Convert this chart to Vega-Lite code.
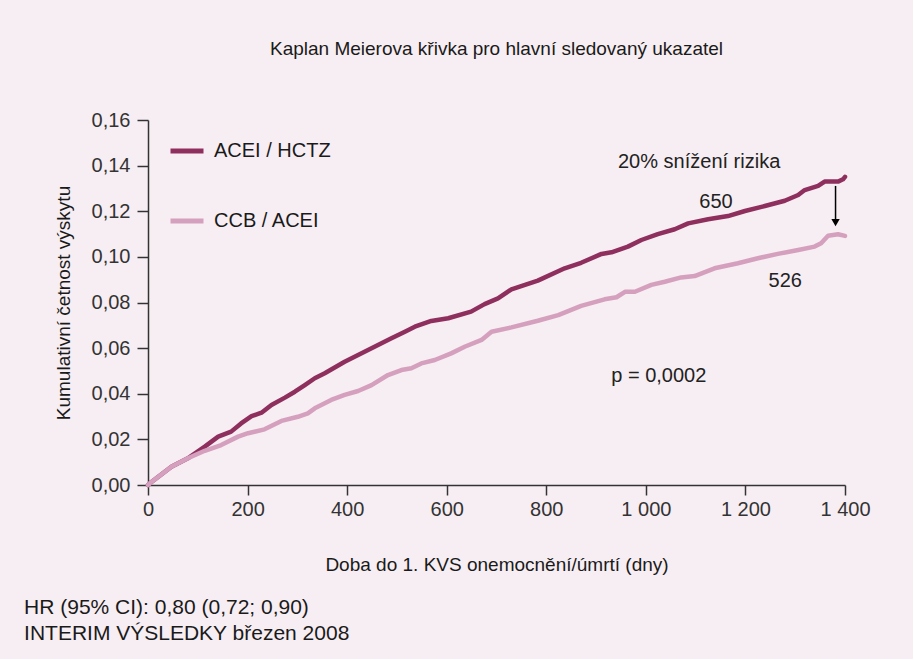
{
  "$schema": "https://vega.github.io/schema/vega-lite/v6.json",
  "background": "#f7eef3",
  "padding": {"left": 24, "top": 40, "right": 42, "bottom": 15},
  "config": {"font": "Liberation Sans", "view": {"stroke": null}, "concat": {"spacing": 0}},
  "title": {
    "text": ["HR (95% CI): 0,80 (0,72; 0,90)", "INTERIM VÝSLEDKY březen 2008"],
    "orient": "bottom", "anchor": "start", "frame": "bounds",
    "fontSize": 21, "fontWeight": "normal", "lineHeight": 26, "offset": 23, "dx": -30,
    "color": "#1a1a1a", "font": "Liberation Sans"
  },
  "datasets": {
    "curves": [
      {"series": "ACEI / HCTZ", "day": 0, "value": 0},
      {"series": "ACEI / HCTZ", "day": 5, "value": 0.001},
      {"series": "ACEI / HCTZ", "day": 47, "value": 0.008},
      {"series": "ACEI / HCTZ", "day": 80, "value": 0.0117},
      {"series": "ACEI / HCTZ", "day": 114, "value": 0.0168},
      {"series": "ACEI / HCTZ", "day": 141, "value": 0.0212},
      {"series": "ACEI / HCTZ", "day": 167, "value": 0.0234},
      {"series": "ACEI / HCTZ", "day": 187, "value": 0.027},
      {"series": "ACEI / HCTZ", "day": 208, "value": 0.0302},
      {"series": "ACEI / HCTZ", "day": 228, "value": 0.0317},
      {"series": "ACEI / HCTZ", "day": 248, "value": 0.0351},
      {"series": "ACEI / HCTZ", "day": 275, "value": 0.0383},
      {"series": "ACEI / HCTZ", "day": 295, "value": 0.0409},
      {"series": "ACEI / HCTZ", "day": 315, "value": 0.0438},
      {"series": "ACEI / HCTZ", "day": 335, "value": 0.0468},
      {"series": "ACEI / HCTZ", "day": 355, "value": 0.049},
      {"series": "ACEI / HCTZ", "day": 395, "value": 0.054},
      {"series": "ACEI / HCTZ", "day": 435, "value": 0.0584},
      {"series": "ACEI / HCTZ", "day": 455, "value": 0.0606},
      {"series": "ACEI / HCTZ", "day": 489, "value": 0.0643},
      {"series": "ACEI / HCTZ", "day": 516, "value": 0.0672},
      {"series": "ACEI / HCTZ", "day": 536, "value": 0.0694},
      {"series": "ACEI / HCTZ", "day": 569, "value": 0.0719},
      {"series": "ACEI / HCTZ", "day": 603, "value": 0.0731},
      {"series": "ACEI / HCTZ", "day": 649, "value": 0.076},
      {"series": "ACEI / HCTZ", "day": 676, "value": 0.0793},
      {"series": "ACEI / HCTZ", "day": 703, "value": 0.0818},
      {"series": "ACEI / HCTZ", "day": 730, "value": 0.0858},
      {"series": "ACEI / HCTZ", "day": 783, "value": 0.0896},
      {"series": "ACEI / HCTZ", "day": 837, "value": 0.095},
      {"series": "ACEI / HCTZ", "day": 870, "value": 0.0974},
      {"series": "ACEI / HCTZ", "day": 911, "value": 0.1013},
      {"series": "ACEI / HCTZ", "day": 931, "value": 0.102},
      {"series": "ACEI / HCTZ", "day": 964, "value": 0.1045},
      {"series": "ACEI / HCTZ", "day": 991, "value": 0.1074},
      {"series": "ACEI / HCTZ", "day": 1024, "value": 0.11},
      {"series": "ACEI / HCTZ", "day": 1058, "value": 0.1121},
      {"series": "ACEI / HCTZ", "day": 1085, "value": 0.1147},
      {"series": "ACEI / HCTZ", "day": 1125, "value": 0.1165},
      {"series": "ACEI / HCTZ", "day": 1165, "value": 0.1179},
      {"series": "ACEI / HCTZ", "day": 1199, "value": 0.1201},
      {"series": "ACEI / HCTZ", "day": 1239, "value": 0.1223},
      {"series": "ACEI / HCTZ", "day": 1279, "value": 0.1246},
      {"series": "ACEI / HCTZ", "day": 1306, "value": 0.1271},
      {"series": "ACEI / HCTZ", "day": 1319, "value": 0.1293},
      {"series": "ACEI / HCTZ", "day": 1346, "value": 0.1311},
      {"series": "ACEI / HCTZ", "day": 1359, "value": 0.133},
      {"series": "ACEI / HCTZ", "day": 1386, "value": 0.133},
      {"series": "ACEI / HCTZ", "day": 1396, "value": 0.134},
      {"series": "ACEI / HCTZ", "day": 1400, "value": 0.1351},
      {"series": "CCB / ACEI", "day": 0, "value": 0},
      {"series": "CCB / ACEI", "day": 5, "value": 0.001},
      {"series": "CCB / ACEI", "day": 47, "value": 0.008},
      {"series": "CCB / ACEI", "day": 80, "value": 0.0117},
      {"series": "CCB / ACEI", "day": 114, "value": 0.015},
      {"series": "CCB / ACEI", "day": 147, "value": 0.0175},
      {"series": "CCB / ACEI", "day": 181, "value": 0.0212},
      {"series": "CCB / ACEI", "day": 201, "value": 0.0227},
      {"series": "CCB / ACEI", "day": 234, "value": 0.0244},
      {"series": "CCB / ACEI", "day": 268, "value": 0.0281},
      {"series": "CCB / ACEI", "day": 301, "value": 0.0299},
      {"series": "CCB / ACEI", "day": 321, "value": 0.0314},
      {"series": "CCB / ACEI", "day": 335, "value": 0.0336},
      {"series": "CCB / ACEI", "day": 368, "value": 0.0373},
      {"series": "CCB / ACEI", "day": 395, "value": 0.0395},
      {"series": "CCB / ACEI", "day": 422, "value": 0.0412},
      {"series": "CCB / ACEI", "day": 449, "value": 0.0438},
      {"series": "CCB / ACEI", "day": 482, "value": 0.0482},
      {"series": "CCB / ACEI", "day": 509, "value": 0.0504},
      {"series": "CCB / ACEI", "day": 529, "value": 0.0512},
      {"series": "CCB / ACEI", "day": 549, "value": 0.0533},
      {"series": "CCB / ACEI", "day": 576, "value": 0.0548},
      {"series": "CCB / ACEI", "day": 609, "value": 0.0577},
      {"series": "CCB / ACEI", "day": 636, "value": 0.0606},
      {"series": "CCB / ACEI", "day": 670, "value": 0.0636},
      {"series": "CCB / ACEI", "day": 690, "value": 0.0672},
      {"series": "CCB / ACEI", "day": 730, "value": 0.0691},
      {"series": "CCB / ACEI", "day": 783, "value": 0.072},
      {"series": "CCB / ACEI", "day": 824, "value": 0.0745},
      {"series": "CCB / ACEI", "day": 870, "value": 0.0785},
      {"series": "CCB / ACEI", "day": 917, "value": 0.0814},
      {"series": "CCB / ACEI", "day": 941, "value": 0.0823},
      {"series": "CCB / ACEI", "day": 958, "value": 0.0847},
      {"series": "CCB / ACEI", "day": 978, "value": 0.0847},
      {"series": "CCB / ACEI", "day": 1011, "value": 0.0877},
      {"series": "CCB / ACEI", "day": 1038, "value": 0.0891},
      {"series": "CCB / ACEI", "day": 1071, "value": 0.091},
      {"series": "CCB / ACEI", "day": 1098, "value": 0.0916},
      {"series": "CCB / ACEI", "day": 1138, "value": 0.095},
      {"series": "CCB / ACEI", "day": 1185, "value": 0.0972},
      {"series": "CCB / ACEI", "day": 1225, "value": 0.0994},
      {"series": "CCB / ACEI", "day": 1265, "value": 0.1013},
      {"series": "CCB / ACEI", "day": 1306, "value": 0.103},
      {"series": "CCB / ACEI", "day": 1339, "value": 0.1045},
      {"series": "CCB / ACEI", "day": 1352, "value": 0.106},
      {"series": "CCB / ACEI", "day": 1366, "value": 0.1093},
      {"series": "CCB / ACEI", "day": 1386, "value": 0.1099},
      {"series": "CCB / ACEI", "day": 1400, "value": 0.1092}
    ],
    "arrow": [
      {"day": 1381, "from": 0.1311, "to": 0.1145, "head": 0.115}
    ],
    "notes": [
      {"label": "20% snížení rizika", "day": 1107, "value": 0.1416},
      {"label": "650", "day": 1141, "value": 0.1241},
      {"label": "526", "day": 1280, "value": 0.0894},
      {"label": "p = 0,0002", "day": 1026, "value": 0.0478}
    ]
  },
  "vconcat": [
    {
      "width": 697,
      "height": 365,
      "title": {
        "text": "Kaplan Meierova křivka pro hlavní sledovaný ukazatel",
        "anchor": "middle", "frame": "group", "fontSize": 19, "fontWeight": "normal",
        "color": "#1a1a1a", "offset": 51, "font": "Liberation Sans"
      },
      "layer": [
        {
          "data": {"name": "curves"},
          "mark": {"type": "line", "strokeWidth": 4.5, "strokeCap": "round", "strokeJoin": "round"},
          "encoding": {
            "x": {
              "field": "day", "type": "quantitative",
              "scale": {"domain": [0, 1400], "nice": false, "zero": true},
              "axis": {
                "values": [0, 200, 400, 600, 800, 1000, 1200, 1400],
                "labelExpr": "replace(format(datum.value, ','), ',', ' ')",
                "title": "Doba do 1. KVS  onemocnění/úmrtí (dny)",
                "grid": false, "tickSize": 10, "labelPadding": 4, "labelFontSize": 20,
                "labelColor": "#333333", "domainColor": "#333333", "tickColor": "#333333",
                "domainWidth": 1.5, "tickWidth": 1.5, "labelFlush": false,
                "titleFontSize": 19, "titleFontWeight": "normal", "titleColor": "#1a1a1a", "titlePadding": 36
              }
            },
            "y": {
              "field": "value", "type": "quantitative",
              "scale": {"domain": [0, 0.16], "nice": false},
              "axis": {
                "values": [0, 0.02, 0.04, 0.06, 0.08, 0.1, 0.12, 0.14, 0.16],
                "labelExpr": "replace(format(datum.value, '.2f'), '.', ',')",
                "title": "Kumulativní četnost výskytu",
                "grid": false, "tickSize": 11, "labelPadding": 7, "labelFontSize": 20,
                "labelColor": "#333333", "domainColor": "#333333", "tickColor": "#333333",
                "domainWidth": 1.5, "tickWidth": 1.5, "labelFlush": false,
                "titleFontSize": 19, "titleFontWeight": "normal", "titleColor": "#1a1a1a", "titlePadding": 18
              }
            },
            "color": {
              "field": "series", "type": "nominal",
              "scale": {"domain": ["ACEI / HCTZ", "CCB / ACEI"], "range": ["#8e2f5e", "#d5a0bd"]},
              "legend": {
                "title": null, "orient": "none", "legendX": 20, "legendY": 12,
                "symbolType": "stroke", "symbolSize": 1089, "symbolStrokeWidth": 5,
                "labelFontSize": 20, "labelColor": "#1a1a1a", "labelOffset": 8,
                "rowPadding": 41, "padding": 0
              }
            }
          }
        },
        {
          "data": {"name": "arrow"},
          "mark": {"type": "rule", "color": "#000000", "strokeWidth": 1.5},
          "encoding": {
            "x": {"field": "day", "type": "quantitative"},
            "y": {"field": "from", "type": "quantitative"},
            "y2": {"field": "to"}
          }
        },
        {
          "data": {"name": "arrow"},
          "mark": {"type": "point", "shape": "triangle-down", "filled": true, "color": "#000000", "size": 70, "opacity": 1},
          "encoding": {
            "x": {"field": "day", "type": "quantitative"},
            "y": {"field": "head", "type": "quantitative"}
          }
        },
        {
          "data": {"name": "notes"},
          "mark": {"type": "text", "fontSize": 20, "color": "#222222", "align": "center", "baseline": "middle", "font": "Liberation Sans"},
          "encoding": {
            "x": {"field": "day", "type": "quantitative"},
            "y": {"field": "value", "type": "quantitative"},
            "text": {"field": "label"}
          }
        }
      ]
    }
  ]
}
